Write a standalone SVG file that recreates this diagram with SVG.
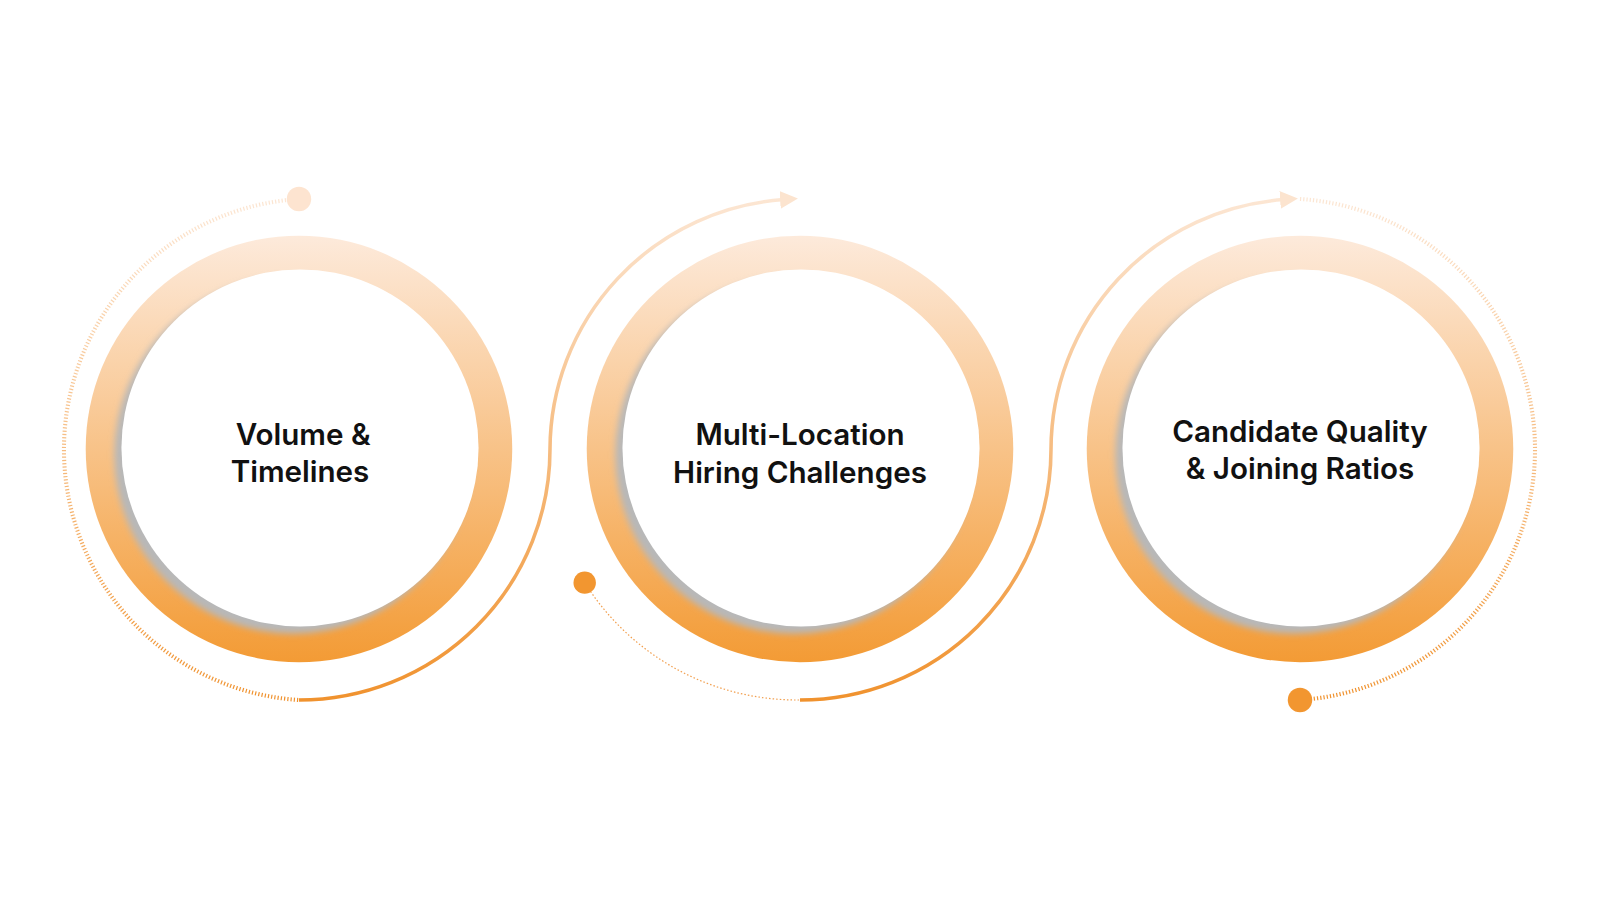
<svg xmlns="http://www.w3.org/2000/svg" width="1600" height="900" viewBox="0 0 1600 900">
<defs>
<linearGradient id="ring" x1="0" y1="0" x2="0" y2="1"><stop offset="0" stop-color="#fdeadb"/><stop offset="1" stop-color="#f39b35"/></linearGradient>
<linearGradient id="line" gradientUnits="userSpaceOnUse" x1="0" y1="195" x2="0" y2="686"><stop offset="0" stop-color="#fce6d3"/><stop offset="1" stop-color="#f0922e"/></linearGradient>
<filter id="sh" x="-20%" y="-20%" width="140%" height="140%"><feGaussianBlur stdDeviation="3"/></filter>
<marker id="arr" viewBox="0 0 10 10" refX="2" refY="5" markerWidth="5" markerHeight="5" orient="auto" markerUnits="strokeWidth"><path d="M0,0 L10,5 L0,10 z" fill="#fce4cf"/></marker>
<style>
.lbl{font-family:Inter,"Liberation Sans",sans-serif;font-weight:600;font-size:29px;fill:#111;text-anchor:middle}
.dot{fill:none;stroke:url(#line);stroke-width:4;stroke-dasharray:1.2 2}
.thin{fill:none;stroke:#f2a050;stroke-width:1.2;stroke-dasharray:1.5 2}
.sol{fill:none;stroke:url(#line);stroke-width:3.5}
</style>
</defs>
<g transform="scale(1.0204)">
<g id="connectors">
<path class="dot" d="M293,195 A246,246 0 0 0 293,686"/>
<path class="sol" d="M293,686 A246,246 0 0 0 539,440 A246,246 0 0 1 768,195.6" marker-end="url(#arr)"/>
<path class="thin" d="M573,571 A246,246 0 0 0 784,686"/>
<path class="sol" d="M784,686 A246,246 0 0 0 1030,440 A246,246 0 0 1 1258,195.6" marker-end="url(#arr)"/>
<path class="dot" d="M1274,195 A246,246 0 0 1 1274,686"/>
<circle cx="293" cy="195" r="12" fill="#fde4d0"/>
<circle cx="573" cy="571" r="11" fill="#f29630"/>
<circle cx="1274" cy="686" r="12" fill="#f29630"/>
</g>
<g id="node1">
<circle cx="293" cy="440" r="209" fill="url(#ring)"/>
<circle cx="287" cy="446" r="175" fill="#b8b8b8" filter="url(#sh)"/>
<circle cx="294" cy="439" r="175" fill="#fff"/>
<text class="lbl" x="297" y="436">Volume &amp;</text>
<text class="lbl" x="294" y="472">Timelines</text>
</g>
<g id="node2">
<circle cx="784" cy="440" r="209" fill="url(#ring)"/>
<circle cx="778" cy="446" r="175" fill="#b8b8b8" filter="url(#sh)"/>
<circle cx="785" cy="439" r="175" fill="#fff"/>
<text class="lbl" x="784" y="436">Multi-Location</text>
<text class="lbl" x="784" y="473">Hiring Challenges</text>
</g>
<g id="node3">
<circle cx="1274" cy="440" r="209" fill="url(#ring)"/>
<circle cx="1268" cy="446" r="175" fill="#b8b8b8" filter="url(#sh)"/>
<circle cx="1275" cy="439" r="175" fill="#fff"/>
<text class="lbl" x="1274" y="433">Candidate Quality</text>
<text class="lbl" x="1274" y="469">&amp; Joining Ratios</text>
</g>
</g>
</svg>
